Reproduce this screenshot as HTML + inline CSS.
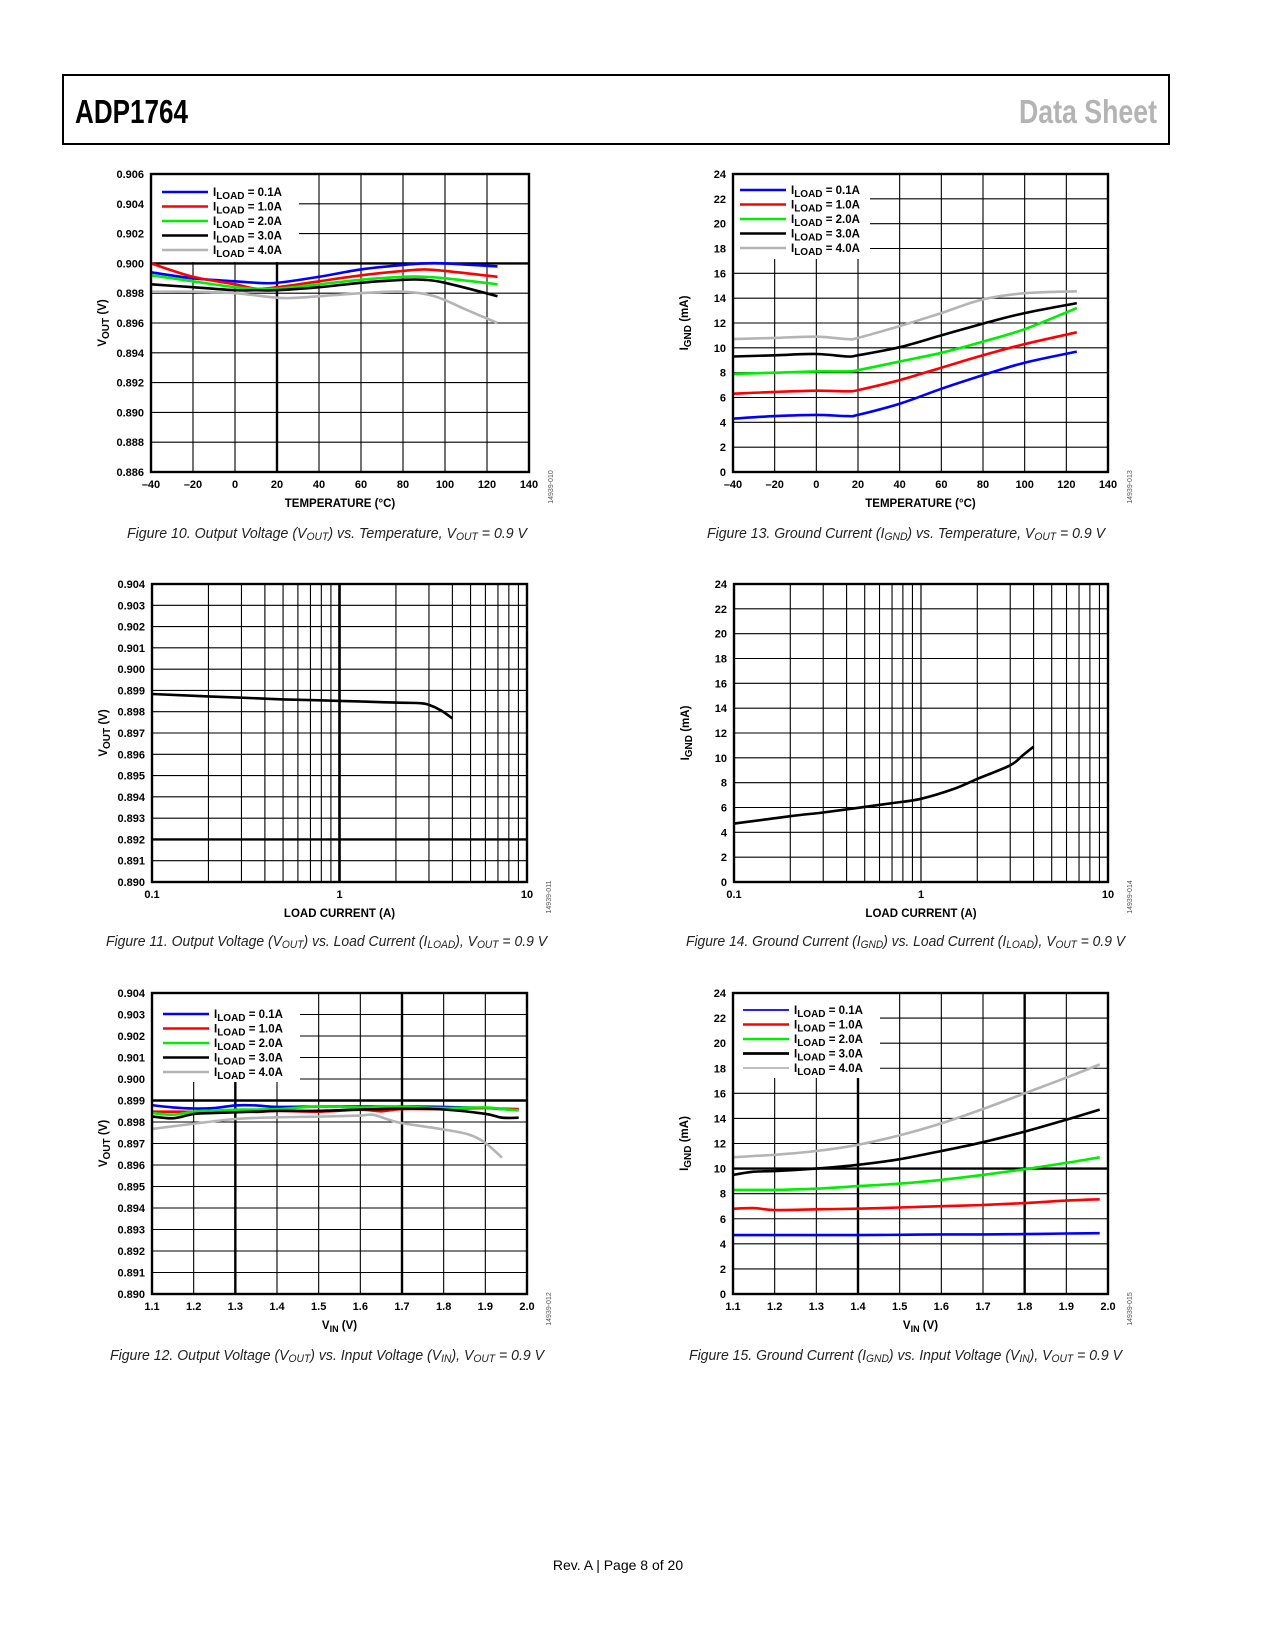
<!DOCTYPE html>
<html><head><meta charset="utf-8"><style>
html,body{margin:0;padding:0;background:#fff;}
svg{display:block;font-family:"Liberation Sans",sans-serif;}
</style></head><body>
<svg id="page" width="1275" height="1650" viewBox="0 0 1275 1650" xmlns="http://www.w3.org/2000/svg">
<rect x="63" y="75" width="1106" height="69" fill="none" stroke="#000" stroke-width="2"/>
<text x="75" y="123" font-size="33" font-weight="bold" textLength="113" lengthAdjust="spacingAndGlyphs">ADP1764</text>
<text x="1157" y="123" font-size="33" font-weight="bold" fill="#b4b4b4" text-anchor="end" textLength="138" lengthAdjust="spacingAndGlyphs">Data Sheet</text>
<text x="618" y="1570" font-size="14" text-anchor="middle">Rev. A | Page 8 of 20</text>
<g id="charts"></g>
</svg>
<script>
// ---- Chart data ----
var legendLabels = ["0.1A","1.0A","2.0A","3.0A","4.0A"];
var seriesColors = ["#0000ff","#ff0000","#00ee00","#000000","#b4b4b4"];

// Figure 10: VOUT vs temperature
var f10Temp = [-40,-20,0,10,20,40,60,80,90,100,125];
var f10Blue = [0.8994,0.8990,0.8988,0.8987,0.8987,0.8991,0.8996,0.8999,0.9000,0.9000,0.8998];
var f10Red = [0.9000,0.8991,0.8986,0.8983,0.8984,0.8988,0.8992,0.8995,0.8996,0.8995,0.8991];
var f10Green = [0.8992,0.8988,0.8984,0.8983,0.8983,0.8986,0.8989,0.8991,0.8991,0.8990,0.8986];
var f10Black = [0.8986,0.8984,0.8982,0.8982,0.8982,0.8984,0.8987,0.8989,0.8989,0.8987,0.8978];
var f10GrayT = [-40,-20,0,20,30,60,80,95,110,125];
var f10Gray = [0.8981,0.8981,0.8980,0.8977,0.8977,0.8980,0.8981,0.8978,0.8969,0.8960];
var f10YTicks = ["0.886","0.888","0.890","0.892","0.894","0.896","0.898","0.900","0.902","0.904","0.906"];
var tempTicks = ["–40","–20","0","20","40","60","80","100","120","140"];

// Figure 13: IGND vs temperature
var f13Temp = [-40,-20,0,15,20,40,60,80,100,125];
var f13Blue = [4.3,4.5,4.6,4.5,4.6,5.5,6.7,7.8,8.8,9.7];
var f13Red = [6.3,6.45,6.55,6.5,6.6,7.4,8.4,9.4,10.3,11.25];
var f13Green = [7.9,8.0,8.1,8.1,8.2,8.9,9.6,10.5,11.5,13.2];
var f13Black = [9.3,9.4,9.5,9.3,9.4,10.05,11.0,11.95,12.8,13.6];
var f13Gray = [10.7,10.8,10.9,10.7,10.8,11.75,12.8,13.9,14.4,14.55];
var igndTicks = ["0","2","4","6","8","10","12","14","16","18","20","22","24"];

// Figure 11: VOUT vs load current
var f11Load = [0.1,0.2,0.3,0.5,1,2,2.7,3,3.5,4];
var f11Vout = [0.89883,0.89872,0.89866,0.89858,0.89851,0.89843,0.89840,0.89832,0.89805,0.89768];
var f11YTicks = ["0.890","0.891","0.892","0.893","0.894","0.895","0.896","0.897","0.898","0.899","0.900","0.901","0.902","0.903","0.904"];
var loadTicks = ["0.1","1","10"];

// Figure 14: IGND vs load current
var f14Load = [0.1,0.2,0.3,0.5,0.7,1,1.5,2,3,3.5,4];
var f14Ignd = [4.7,5.3,5.6,6.05,6.35,6.7,7.5,8.3,9.4,10.2,10.9];

// Figure 12: VOUT vs VIN
var f12Vin = [1.10,1.15,1.20,1.25,1.30,1.35,1.40,1.50,1.60,1.65,1.70,1.80,1.90,1.94,1.98];
var f12Blue = [0.89878,0.89868,0.89863,0.89865,0.89877,0.89877,0.8987,0.89872,0.89872,0.89871,0.89872,0.8987,0.89865,0.8986,0.89857];
var f12Red = [0.89848,0.89848,0.89848,0.8985,0.89854,0.89847,0.89852,0.89848,0.89857,0.8985,0.8986,0.8986,0.89865,0.89862,0.8986];
var f12Green = [0.89842,0.89834,0.89848,0.89853,0.89857,0.89858,0.8986,0.89872,0.89868,0.89869,0.8987,0.89865,0.89868,0.8986,0.89854];
var f12Black = [0.89826,0.89817,0.89837,0.89842,0.89845,0.89848,0.89852,0.89852,0.89858,0.8986,0.89863,0.89858,0.89838,0.8982,0.8982];
var f12GrayV = [1.10,1.20,1.30,1.40,1.50,1.60,1.63,1.67,1.70,1.80,1.86,1.90,1.94];
var f12Gray = [0.89768,0.89792,0.89814,0.89822,0.89825,0.8983,0.89834,0.8981,0.89795,0.89765,0.89742,0.89703,0.89634];
var vinTicks = ["1.1","1.2","1.3","1.4","1.5","1.6","1.7","1.8","1.9","2.0"];

// Figure 15: IGND vs VIN
var f15Vin = [1.10,1.15,1.20,1.30,1.40,1.50,1.60,1.70,1.80,1.90,1.98];
var f15Blue = [4.7,4.7,4.7,4.7,4.7,4.72,4.75,4.75,4.78,4.82,4.85];
var f15Red = [6.8,6.85,6.7,6.75,6.8,6.9,7.0,7.1,7.25,7.45,7.55];
var f15Green = [8.3,8.3,8.3,8.4,8.6,8.8,9.1,9.5,9.95,10.45,10.9];
var f15Black = [9.5,9.75,9.8,10.0,10.3,10.75,11.4,12.1,12.95,13.9,14.7];
var f15Gray = [10.9,11.0,11.1,11.4,11.9,12.65,13.6,14.75,16.0,17.25,18.3];

var NS = "http://www.w3.org/2000/svg";
var root = document.getElementById("charts");
function mk(tag, attrs, parent){var e=document.createElementNS(NS,tag);for(var k in attrs)e.setAttribute(k,attrs[k]);(parent||root).appendChild(e);return e;}

function smoothPath(pts){
  var d="M"+pts[0][0].toFixed(1)+","+pts[0][1].toFixed(1);
  for(var i=0;i<pts.length-1;i++){
    var p0=pts[i-1]||pts[i],p1=pts[i],p2=pts[i+1],p3=pts[i+2]||p2;
    var c1x=p1[0]+(p2[0]-p0[0])/6,c1y=p1[1]+(p2[1]-p0[1])/6;
    var c2x=p2[0]-(p3[0]-p1[0])/6,c2y=p2[1]-(p3[1]-p1[1])/6;
    d+=" C"+c1x.toFixed(1)+","+c1y.toFixed(1)+" "+c2x.toFixed(1)+","+c2y.toFixed(1)+" "+p2[0].toFixed(1)+","+p2[1].toFixed(1);
  }
  return d;
}

function drawChart(c){
  var g=mk("g",{});
  
  
  var W=c.x1-c.x0,H=c.y1-c.y0;
  var sx=c.log?function(v){return c.x0+(Math.log10(v)-Math.log10(c.xmin))/(Math.log10(c.xmax)-Math.log10(c.xmin))*W;}
              :function(v){return c.x0+(v-c.xmin)/(c.xmax-c.xmin)*W;};
  var sy=function(v){return c.y1-(v-c.ymin)/(c.ymax-c.ymin)*H;};
  var nY=c.yTicks.length-1;
  for(var i=1;i<nY;i++){
    var yv=c.ymin+i*(c.ymax-c.ymin)/nY, y=sy(yv);
    var heavy=c.heavyY!=null && Math.abs(yv-c.heavyY)<1e-9;
    var gl=mk("line",{x1:c.x0,x2:c.x1,y1:y,y2:y,stroke:"#000","stroke-width":heavy?2.4:1.1},g);
    
    
  }
  var xg=[];
  if(c.log){for(var dec=c.xmin;dec<c.xmax;dec*=10){for(var m=1;m<=10;m++){xg.push(dec*m);}}}
  else{for(var j=0;j<c.xTicks.length;j++)xg.push(c.xmin+j*(c.xmax-c.xmin)/(c.xTicks.length-1));}
  xg.forEach(function(v){
    var x=sx(v); if(x<=c.x0+0.5||x>=c.x1-0.5)return;
    var heavy=(c.heavyX||[]).some(function(h){return Math.abs(h-v)<1e-6;});
    var gl=mk("line",{x1:x,x2:x,y1:c.y0,y2:c.y1,stroke:"#000","stroke-width":heavy?2.4:1.1},g);
    
    
  });
  if(c.legend){
    var lb=mk("rect",{x:c.x0+1,y:c.y0+1,width:c.legend.w,height:c.legend.h,fill:"#fff"},g);
    
    
  }
  c.series.forEach(function(s,si){
    var pts=s.x.map(function(v,k){return [sx(v),sy(s.y[k])];});
    var p=mk("path",{d:smoothPath(pts),fill:"none",stroke:s.color,"stroke-width":s.w||2.6,"stroke-linejoin":"round"},g);
    
    
  });
  var fr=mk("rect",{x:c.x0,y:c.y0,width:W,height:H,fill:"none",stroke:"#000","stroke-width":2.4},g);
  
  
  if(c.legend){
    legendLabels.forEach(function(lbl,i){
      var ly=c.legend.y+i*14.5;
      var ln=mk("line",{x1:c.legend.lx,x2:c.legend.lx+46,y1:ly,y2:ly,stroke:seriesColors[i],"stroke-width":c.legend.sw?c.legend.sw[i]:2.6},g);
      
      
      var t=mk("text",{x:c.legend.lx+51,y:ly+4,"font-size":11.5,"font-weight":"bold"},g);
      
      
      t.appendChild(document.createTextNode("I"));
      var sub=mk("tspan",{"font-size":10,dy:3},t); sub.textContent="LOAD";
      var rest=mk("tspan",{dy:-3},t); rest.textContent=" = "+lbl;
    });
  }
  c.yTicks.forEach(function(lbl,i){
    var yv=c.ymin+i*(c.ymax-c.ymin)/nY;
    var t=mk("text",{x:c.x0-7,y:sy(yv)+4,"font-size":11,"font-weight":"bold","text-anchor":"end"},g);
    
    
    t.textContent=lbl;
  });
  c.xTicks.forEach(function(lbl,i){
    var xv=c.log?c.xmin*Math.pow(10,i):c.xmin+i*(c.xmax-c.xmin)/(c.xTicks.length-1);
    var t=mk("text",{x:sx(xv),y:c.y1+16,"font-size":11,"font-weight":"bold","text-anchor":"middle"},g);
    
    
    t.textContent=lbl;
  });
  var xt=mk("text",{x:(c.x0+c.x1)/2,y:c.y1+35,"font-size":11.5,"font-weight":"bold","text-anchor":"middle"},g);
  
  
  if(c.xTitleSub){xt.appendChild(document.createTextNode("V"));var s1=mk("tspan",{"font-size":9,dy:3},xt);s1.textContent="IN";var s2=mk("tspan",{dy:-3},xt);s2.textContent=" (V)";}
  else xt.textContent=c.xTitle;
  var yx=c.x0-45, yy=(c.y0+c.y1)/2;
  var yt=mk("text",{x:yx,y:yy,"font-size":11.5,"font-weight":"bold","text-anchor":"middle",transform:"rotate(-90 "+yx+" "+yy+")"},g);
  
  
  yt.appendChild(document.createTextNode(c.yT[0]));
  var ys=mk("tspan",{"font-size":10,dy:3},yt); ys.textContent=c.yT[1];
  var yr=mk("tspan",{dy:-3},yt); yr.textContent=c.yT[2];
  var fx=c.x1+24, fy=c.y1+15;
  var fi=mk("text",{x:fx,y:fy,"font-size":7,fill:"#555","text-anchor":"middle",transform:"rotate(-90 "+fx+" "+fy+")"},g);
  
  
  fi.textContent=c.figId;
  var cp=mk("text",{x:c.cap[0],y:c.cap[1],"font-size":15,"font-style":"italic",fill:"#222",textLength:c.cap[2],lengthAdjust:"spacingAndGlyphs"},g);
  
  
  c.capParts.forEach(function(part){
    var ts=mk("tspan",part[1]?{"font-size":11,dy:part[2]}:{dy:part[2]},cp); ts.textContent=part[0];
  });
}

function mkSeries(xs, ys, names){
  return ys.map(function(y,i){return {x:Array.isArray(xs[0])?xs[i]:xs,y:y,color:seriesColors[i],name:names[i]};});
}
var sNames=["series-iload-0p1a","series-iload-1p0a","series-iload-2p0a","series-iload-3p0a","series-iload-4p0a"];

drawChart({name:"chart-fig10-vout-vs-temp",x0:151,x1:529,y0:174,y1:472,xmin:-40,xmax:140,ymin:0.886,ymax:0.906,
  yTicks:f10YTicks,xTicks:tempTicks,heavyY:0.900,heavyX:[20],xTitle:"TEMPERATURE (°C)",yT:["V","OUT"," (V)"],figId:"14939-010",
  legend:{w:147,h:87,lx:162,y:192},
  series:mkSeries([f10Temp,f10Temp,f10Temp,f10Temp,f10GrayT],[f10Blue,f10Red,f10Green,f10Black,f10Gray],sNames),
  cap:[127,538,400],capParts:[["Figure 10. Output Voltage (V",0,0],["OUT",1,2],[") vs. Temperature, V",0,-2],["OUT",1,2],[" = 0.9 V",0,-2]]});

drawChart({name:"chart-fig13-ignd-vs-temp",x0:733,x1:1108,y0:174,y1:472,xmin:-40,xmax:140,ymin:0,ymax:24,
  yTicks:igndTicks,xTicks:tempTicks,xTitle:"TEMPERATURE (°C)",yT:["I","GND"," (mA)"],figId:"14939-013",
  legend:{w:136,h:84,lx:740,y:190},
  series:mkSeries([f13Temp,f13Temp,f13Temp,f13Temp,f13Temp],[f13Blue,f13Red,f13Green,f13Black,f13Gray],sNames),
  cap:[707,538,398],capParts:[["Figure 13. Ground Current (I",0,0],["GND",1,2],[") vs. Temperature, V",0,-2],["OUT",1,2],[" = 0.9 V",0,-2]]});

drawChart({name:"chart-fig11-vout-vs-load",log:true,x0:152,x1:527,y0:584,y1:882,xmin:0.1,xmax:10,ymin:0.890,ymax:0.904,
  yTicks:f11YTicks,xTicks:loadTicks,heavyY:0.892,heavyX:[1],xTitle:"LOAD CURRENT (A)",yT:["V","OUT"," (V)"],figId:"14939-011",
  series:[{x:f11Load,y:f11Vout,color:"#000",name:"series-vout"}],
  cap:[106,946,441],capParts:[["Figure 11. Output Voltage (V",0,0],["OUT",1,2],[") vs. Load Current (I",0,-2],["LOAD",1,2],["), V",0,-2],["OUT",1,2],[" = 0.9 V",0,-2]]});

drawChart({name:"chart-fig14-ignd-vs-load",log:true,x0:734,x1:1108,y0:584,y1:882,xmin:0.1,xmax:10,ymin:0,ymax:24,
  yTicks:igndTicks,xTicks:loadTicks,xTitle:"LOAD CURRENT (A)",yT:["I","GND"," (mA)"],figId:"14939-014",
  series:[{x:f14Load,y:f14Ignd,color:"#000",name:"series-ignd"}],
  cap:[686,946,439],capParts:[["Figure 14. Ground Current (I",0,0],["GND",1,2],[") vs. Load Current (I",0,-2],["LOAD",1,2],["), V",0,-2],["OUT",1,2],[" = 0.9 V",0,-2]]});

drawChart({name:"chart-fig12-vout-vs-vin",x0:152,x1:527,y0:993,y1:1294,xmin:1.1,xmax:2.0,ymin:0.890,ymax:0.904,
  yTicks:f11YTicks,xTicks:vinTicks,heavyY:0.899,heavyX:[1.3,1.7],xTitleSub:true,yT:["V","OUT"," (V)"],figId:"14939-012",
  legend:{w:147,h:88,lx:163,y:1014},
  series:mkSeries([f12Vin,f12Vin,f12Vin,f12Vin,f12GrayV],[f12Blue,f12Red,f12Green,f12Black,f12Gray],sNames),
  cap:[110,1360,434],capParts:[["Figure 12. Output Voltage (V",0,0],["OUT",1,2],[") vs. Input Voltage (V",0,-2],["IN",1,2],["), V",0,-2],["OUT",1,2],[" = 0.9 V",0,-2]]});

drawChart({name:"chart-fig15-ignd-vs-vin",x0:733,x1:1108,y0:993,y1:1294,xmin:1.1,xmax:2.0,ymin:0,ymax:24,
  yTicks:igndTicks,xTicks:vinTicks,heavyY:10,heavyX:[1.4,1.8],xTitleSub:true,yT:["I","GND"," (mA)"],figId:"14939-015",
  legend:{w:146,h:84,lx:743,y:1010,sw:[1.8,2.6,2.6,2.8,1.8]},
  series:mkSeries([f15Vin,f15Vin,f15Vin,f15Vin,f15Vin],[f15Blue,f15Red,f15Green,f15Black,f15Gray],sNames),
  cap:[689,1360,433],capParts:[["Figure 15. Ground Current (I",0,0],["GND",1,2],[") vs. Input Voltage (V",0,-2],["IN",1,2],["), V",0,-2],["OUT",1,2],[" = 0.9 V",0,-2]]});
</script>
</body></html>
